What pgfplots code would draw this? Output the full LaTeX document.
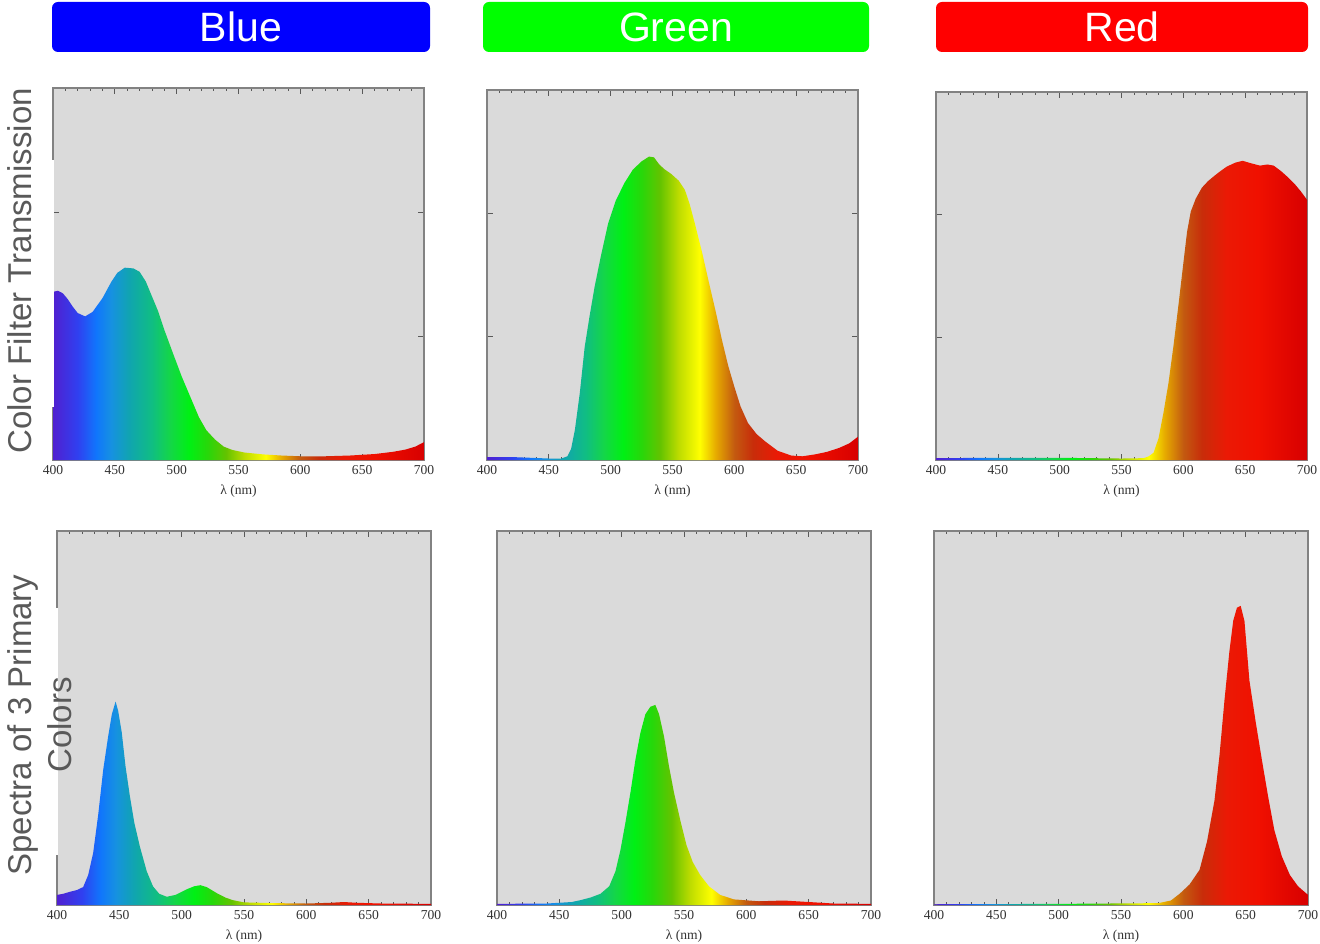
\documentclass[border=0pt]{standalone}
\usepackage{fontspec}
\setmainfont{Liberation Sans}
\newfontfamily\serif{Liberation Serif}
\usepackage{pgfplots}
\pgfplotsset{compat=1.18}

\definecolor{bggray}{RGB}{218,218,218}
\definecolor{framegray}{RGB}{130,130,130}
\definecolor{labelgray}{RGB}{89,89,89}
\definecolor{sA}{RGB}{80,32,208}
\definecolor{sB}{RGB}{48,64,240}
\definecolor{sC}{RGB}{16,118,252}
\definecolor{sD}{RGB}{22,145,225}
\definecolor{sE}{RGB}{16,165,175}
\definecolor{sF}{RGB}{16,190,130}
\definecolor{sG}{RGB}{20,215,70}
\definecolor{sH}{RGB}{0,240,20}
\definecolor{sI}{RGB}{40,215,10}
\definecolor{sJ}{RGB}{100,195,0}
\definecolor{sK}{RGB}{190,220,0}
\definecolor{sL}{RGB}{255,255,0}
\definecolor{sM}{RGB}{230,170,0}
\definecolor{sN}{RGB}{195,90,16}
\definecolor{sO}{RGB}{200,45,10}
\definecolor{sP}{RGB}{235,25,5}
\definecolor{sQ}{RGB}{240,16,0}
\definecolor{sR}{RGB}{215,0,0}
% wavelength 400..700 nm mapped to 25bp..75bp
\pgfdeclarehorizontalshading{spectrum}{100bp}{%
color(0bp)=(sA); color(25bp)=(sA); color(28.33bp)=(sB); color(30.83bp)=(sC);
color(32.83bp)=(sD); color(35.33bp)=(sE); color(38.33bp)=(sF); color(40.83bp)=(sG);
color(43.33bp)=(sH); color(45.83bp)=(sI); color(48.33bp)=(sJ); color(50.83bp)=(sK);
color(53.67bp)=(sL); color(55.83bp)=(sM); color(58.33bp)=(sN); color(60.83bp)=(sO);
color(64.17bp)=(sP); color(68.33bp)=(sQ); color(75bp)=(sR); color(100bp)=(sR)}

\newcommand{\tickfont}{\serif\fontsize{6.8}{7.5}\selectfont}

\pgfplotsset{
  panel/.style={
    scale only axis, anchor=south west,
    xmin=400, xmax=700, ymin=0, ymax=1,
    axis background/.style={fill=bggray},
    axis line style={draw=framegray, line width=0.6pt},
    xtick={400,450,500,550,600,650,700},
    minor x tick num=4,
    tick align=inside,
    major tick length=3pt, minor tick length=1.6pt,
    every tick/.style={black!65, line width=0.35pt},
    /pgf/number format/assume math mode=true,
    xticklabel style={font=\tickfont, text=black!80, inner sep=2.5pt},
    xlabel={λ (nm)},
    xlabel style={font=\tickfont, text=black!80, inner sep=1pt, yshift=-1.5pt},
    ytick=\empty,
  },
  toprow/.style={ytick={0.3333,0.6667}, yticklabels={,}},
  spec/.style={draw=none, shading=spectrum, shading angle=0},
}

\begin{document}
\begin{tikzpicture}
\useasboundingbox (0,0) rectangle (660pt,471.5pt);

% ---------- titles ----------
\node[fill={rgb,255:red,0;green,0;blue,255}, rounded corners=3pt, minimum width=189pt, minimum height=25pt,
      text=white, font=\fontsize{20.5}{22}\selectfont, inner sep=0pt] at (120.5pt,458pt) {Blue};
\node[fill={rgb,255:red,0;green,255;blue,0}, rounded corners=3pt, minimum width=193pt, minimum height=25pt,
      text=white, font=\fontsize{20.5}{22}\selectfont, inner sep=0pt] at (338pt,458pt) {Green};
\node[fill={rgb,255:red,255;green,0;blue,0}, rounded corners=3pt, minimum width=186pt, minimum height=25pt,
      text=white, font=\fontsize{20.5}{22}\selectfont, inner sep=0pt] at (561pt,458pt) {Red};

% ---------- top row: filter transmission ----------
\begin{axis}[panel, toprow, at={(26.5pt,241.5pt)}, width=185.5pt, height=186pt]
\addplot[spec] coordinates {
(400,0.452)(404,0.455)(408,0.448)(412,0.432)(416,0.412)(420,0.395)(426,0.386)(432,0.398)(440,0.435)
(447,0.478)(452,0.503)(458,0.517)(465,0.515)(470,0.506)(475,0.48)(480,0.44)(485,0.40)
(490,0.35)(497,0.287)(504,0.225)(511,0.17)(518,0.115)(524,0.08)(531,0.055)(538,0.036)
(545,0.027)(555,0.02)(570,0.015)(585,0.012)(600,0.01)(620,0.01)(640,0.012)(660,0.016)
(675,0.022)(685,0.028)(693,0.036)(700,0.048)} \closedcycle;
\end{axis}

\begin{axis}[panel, toprow, at={(243.5pt,241.5pt)}, width=185.5pt, height=185pt]
\addplot[spec] coordinates {
(400,0.008)(420,0.008)(435,0.006)(450,0.004)(460,0.004)(465,0.01)(468,0.03)(471,0.08)
(475,0.18)(479,0.306)(483,0.39)(487,0.468)(492,0.55)(498,0.64)(504,0.70)(511,0.748)
(518,0.785)(525,0.807)(531,0.82)(535,0.818)(539,0.80)(543,0.787)(549,0.773)(555,0.755)
(560,0.73)(564,0.69)(568,0.64)(574,0.56)(579,0.486)(585,0.40)(590,0.324)(595,0.255)
(600,0.198)(605,0.145)(611,0.10)(618,0.07)(625,0.05)(635,0.025)(646,0.012)(655,0.01)
(665,0.015)(675,0.022)(685,0.033)(693,0.045)(700,0.063)} \closedcycle;
\end{axis}

\begin{axis}[panel, toprow, at={(468pt,241.5pt)}, width=185.5pt, height=184pt]
\addplot[spec] coordinates {
(400,0.005)(450,0.006)(500,0.006)(550,0.004)(568,0.005)(572,0.01)(576,0.02)(580,0.06)
(584,0.13)(588,0.21)(592,0.31)(596,0.42)(600,0.535)(603,0.62)(606,0.675)(610,0.71)
(615,0.74)(620,0.758)(625,0.772)(630,0.785)(635,0.797)(642,0.808)(648,0.813)(655,0.806)
(662,0.80)(668,0.803)(673,0.80)(679,0.785)(684,0.77)(690,0.75)(695,0.73)(700,0.707)} \closedcycle;
\end{axis}

% ---------- bottom row: spectra ----------
\begin{axis}[panel, at={(28.5pt,19pt)}, width=187pt, height=187pt]
\addplot[spec] coordinates {
(400,0.027)(405,0.03)(410,0.035)(416,0.04)(421,0.048)(425,0.08)(429,0.139)(433,0.24)
(437,0.36)(441,0.45)(444,0.51)(447,0.544)(449,0.52)(452,0.46)(455,0.37)(458.5,0.29)
(462,0.22)(466.5,0.156)(472,0.09)(477,0.05)(482,0.03)(488,0.022)(495,0.027)(500,0.035)
(504,0.042)(510,0.05)(515,0.053)(520,0.048)(524,0.04)(528,0.032)(535,0.02)(541,0.013)
(550,0.007)(575,0.005)(600,0.004)(620,0.006)(630,0.008)(640,0.006)(660,0.004)(700,0.003)} \closedcycle;
\end{axis}

\begin{axis}[panel, at={(248.5pt,19pt)}, width=187pt, height=187pt]
\addplot[spec] coordinates {
(400,0.003)(440,0.004)(460,0.008)(467,0.013)(475,0.02)(483,0.03)(490,0.05)(495,0.09)
(499,0.147)(503,0.22)(507,0.30)(511,0.388)(515,0.46)(519,0.51)(523,0.53)(527,0.535)
(530,0.51)(534,0.45)(538,0.37)(542,0.30)(547,0.227)(552,0.16)(557,0.115)(563,0.08)
(570,0.05)(579,0.027)(590,0.015)(610,0.01)(630,0.012)(650,0.008)(670,0.004)(700,0.003)} \closedcycle;
\end{axis}

\begin{axis}[panel, at={(467pt,19pt)}, width=187pt, height=187pt]
\addplot[spec] coordinates {
(400,0.002)(500,0.003)(580,0.005)(590,0.012)(597,0.03)(605,0.055)(613,0.094)(619,0.17)
(625,0.28)(629,0.40)(633,0.548)(637,0.68)(640,0.76)(643,0.795)(646,0.80)(649,0.76)
(653,0.60)(658,0.49)(663,0.388)(668,0.29)(673,0.20)(679,0.13)(685.5,0.08)(692,0.05)
(700,0.027)} \closedcycle;
\end{axis}

% ---------- row labels (white text boxes) ----------
\fill[white] (0,268pt) rectangle (26.9pt,391.5pt);
\node[rotate=90, text=labelgray, font=\fontsize{16.5}{20}\selectfont, inner sep=0pt]
  at (10pt,336pt) {Color Filter Transmission};
\fill[white] (0,44pt) rectangle (28.9pt,167.5pt);
\node[rotate=90, text=labelgray, font=\fontsize{16.5}{20}\selectfont, align=center, inner sep=0pt]
  at (20pt,109pt) {Spectra of 3 Primary\\Colors};
\end{tikzpicture}
\end{document}
